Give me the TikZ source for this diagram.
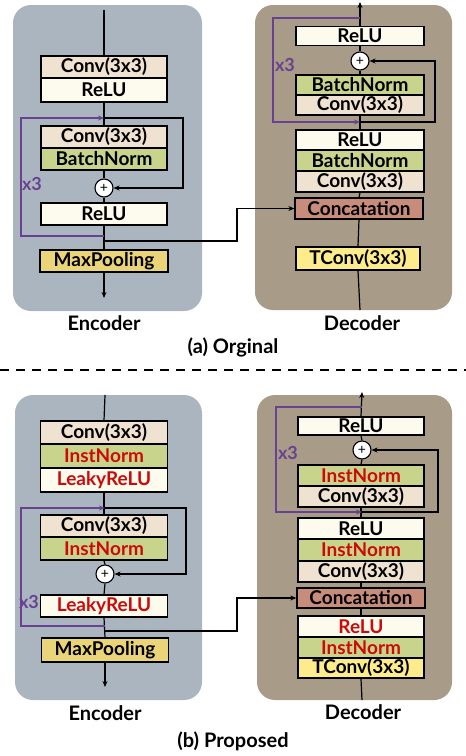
\documentclass[tikz,border=0pt]{standalone}
\usepackage{fontspec}
\setmainfont{Lato}
\usetikzlibrary{arrows.meta}
\definecolor{encbg}{RGB}{170,181,192}
\definecolor{decbg}{RGB}{168,155,135}
\definecolor{convc}{RGB}{240,226,208}
\definecolor{reluc}{RGB}{253,250,238}
\definecolor{normc}{RGB}{200,212,140}
\definecolor{poolc}{RGB}{234,212,122}
\definecolor{tconvc}{RGB}{252,236,140}
\definecolor{catc}{RGB}{200,140,122}
\definecolor{loopc}{RGB}{105,65,145}
\definecolor{redt}{RGB}{205,10,10}
\tikzset{
  blk/.style={draw=black, line width=1.3pt, inner sep=0pt, font=\bfseries\fontsize{19}{19}\selectfont},
  panel/.style={rounded corners=18pt, inner sep=0pt, draw=none},
  ln/.style={draw=black, line width=1.2pt},
  pl/.style={draw=loopc, line width=1.2pt},
  arr/.style={-{Stealth[length=6pt,width=5pt]}},
  addc/.style={circle, draw=black, fill=white, line width=1.1pt, minimum size=18pt, inner sep=0pt, font=\fontsize{14}{14}\selectfont},
  lbl/.style={font=\bfseries\fontsize{20}{20}\selectfont, inner sep=0pt},
  xlbl/.style={font=\bfseries\fontsize{18}{18}\selectfont, text=loopc, inner sep=0pt},
  red/.style={text=redt}
}
\begin{document}
\begin{tikzpicture}[x=1pt,y=-1pt]
\useasboundingbox (0,0) rectangle (466,756);
% ---------- panels ----------
\node[panel, fill=encbg, minimum width=189pt, minimum height=306pt] (pA) at (107.5,158) {};
\node[panel, fill=decbg, minimum width=197pt, minimum height=305pt] (pB) at (353.5,157.5) {};
\node[panel, fill=encbg, minimum width=187pt, minimum height=305pt] (pC) at (108.5,547.5) {};
\node[panel, fill=decbg, minimum width=195pt, minimum height=305pt] (pD) at (354.5,547.5) {};

% ---------- coordinates ----------
\coordinate (aIn) at (104,10);
\coordinate (aJ) at (104,118);
\coordinate (aK) at (104,236);
\coordinate (aS) at (104,241);
\coordinate (aOut) at (104,298);
\coordinate (bTop) at (360,2);
\coordinate (bP) at (360,18);
\coordinate (bJ) at (360,122);
\coordinate (bBot) at (360,310);
\coordinate (cIn) at (105,395);
\coordinate (cJ) at (105,508);
\coordinate (cK) at (105,626);
\coordinate (cS) at (105,631);
\coordinate (cOut) at (105,687);
\coordinate (dTop) at (362,392);
\coordinate (dP) at (362,407);
\coordinate (dJ) at (362,512);
\coordinate (dBot) at (362,700);

% ---------- labels ----------
\node[xlbl] (aX3) at (32,184) {x3};
\node[xlbl] (bX3) at (285,65) {x3};
\node[xlbl] (cX3) at (29,602) {x3};
\node[xlbl] (dX3) at (288,453) {x3};

% ================= (a) Encoder =================
\node[blk, fill=convc, minimum width=126pt, minimum height=22pt] (aC1) at (104,67) {Conv(3x3)};
\node[blk, fill=reluc, minimum width=126pt, minimum height=24pt] (aR1) at (104,90) {ReLU};
\node[blk, fill=convc, minimum width=126pt, minimum height=22pt] (aC2) at (104,137) {Conv(3x3)};
\node[blk, fill=normc, minimum width=126pt, minimum height=22pt] (aN2) at (104,159) {BatchNorm};
\node[blk, fill=reluc, minimum width=126pt, minimum height=22pt] (aR2) at (104,214) {ReLU};
\node[blk, fill=poolc, minimum width=128pt, minimum height=22pt] (aMP) at (104,261) {MaxPooling};

% ================= (a) Decoder =================
\node[blk, fill=reluc, minimum width=128pt, minimum height=19pt] (bR1) at (360,36) {ReLU};
\node[blk, fill=normc, minimum width=128pt, minimum height=20pt] (bN1) at (360,85) {BatchNorm};
\node[blk, fill=convc, minimum width=128pt, minimum height=20pt] (bC1) at (360,105) {Conv(3x3)};
\node[blk, fill=reluc, minimum width=128pt, minimum height=20pt] (bR2) at (360,140) {ReLU};
\node[blk, fill=normc, minimum width=128pt, minimum height=21pt] (bN2) at (360,160.5) {BatchNorm};
\node[blk, fill=convc, minimum width=128pt, minimum height=21pt] (bC2) at (360,181.5) {Conv(3x3)};
\node[blk, fill=catc, minimum width=128pt, minimum height=21pt] (bCat) at (359,208.5) {Concatation};
\node[blk, fill=tconvc, minimum width=124pt, minimum height=23pt] (bT) at (358,258.5) {TConv(3x3)};

% ================= (b) Encoder =================
\node[blk, fill=convc, minimum width=127pt, minimum height=23pt] (cC1) at (104,432.5) {Conv(3x3)};
\node[blk, fill=normc, minimum width=127pt, minimum height=24pt, red] (cN1) at (104,456) {InstNorm};
\node[blk, fill=reluc, minimum width=127pt, minimum height=24pt, red] (cL1) at (104,480) {LeakyReLU};
\node[blk, fill=convc, minimum width=127pt, minimum height=22pt] (cC2) at (104,526) {Conv(3x3)};
\node[blk, fill=normc, minimum width=127pt, minimum height=23pt, red] (cN2) at (104,548.5) {InstNorm};
\node[blk, fill=reluc, minimum width=127pt, minimum height=22pt, red] (cL2) at (104,606) {LeakyReLU};
\node[blk, fill=poolc, minimum width=127pt, minimum height=24pt] (cMP) at (105,650) {MaxPooling};

% ================= (b) Decoder =================
\node[blk, fill=reluc, minimum width=126pt, minimum height=18pt] (dR1) at (361,426) {ReLU};
\node[blk, fill=normc, minimum width=126pt, minimum height=21pt, red] (dN1) at (361,475.5) {InstNorm};
\node[blk, fill=convc, minimum width=126pt, minimum height=21pt] (dC1) at (361,496.5) {Conv(3x3)};
\node[blk, fill=reluc, minimum width=126pt, minimum height=21pt] (dR2) at (361,528.5) {ReLU};
\node[blk, fill=normc, minimum width=126pt, minimum height=22pt, red] (dN2) at (361,550) {InstNorm};
\node[blk, fill=convc, minimum width=126pt, minimum height=21pt] (dC2) at (361,571.5) {Conv(3x3)};
\node[blk, fill=catc, minimum width=128pt, minimum height=20pt] (dCat) at (361,598) {Concatation};
\node[blk, fill=reluc, minimum width=126pt, minimum height=21pt, red] (dR3) at (361,626.5) {ReLU};
\node[blk, fill=normc, minimum width=126pt, minimum height=21pt, red] (dN3) at (361,647.5) {InstNorm};
\node[blk, fill=tconvc, minimum width=126pt, minimum height=20pt] (dT) at (361,668) {TConv(3x3)};

% adder circles
\node[addc] (aAdd) at (104,188) {+};
\node[addc] (bAdd) at (360,61) {+};
\node[addc] (cAdd) at (105,574) {+};
\node[addc] (dAdd) at (362,450) {+};

% captions
\node[lbl] (lA1) at (104,323) {Encoder};
\node[lbl] (lA2) at (362,323) {Decoder};
\node[lbl] (capA) at (233,347) {(a) Orginal};
\node[lbl] (lB1) at (105,713) {Encoder};
\node[lbl] (lB2) at (363,712) {Decoder};
\node[lbl] (capB) at (233,741) {(b) Proposed};
\coordinate (dashL) at (0,370);
\coordinate (dashR) at (466,370);
\draw[black, line width=1.8pt, dash pattern=on 9pt off 7pt] (dashL) -- (dashR);

% ----- (a) encoder lines
\draw[ln] (aIn) -- (aC1.north);
\draw[ln] (aR1.south) -- (aC2.north);
\draw[ln, arr] (aJ) -- ++(79,0) |- (aAdd.east);
\draw[ln] (aN2.south) -- (aAdd.north);
\draw[ln] (aAdd.south) -- (aR2.north);
\draw[ln] (aR2.south) -- (aMP.north);
\draw[ln, arr] (aMP.south) -- (aOut);
\draw[pl, arr] (aK) -- ++(-83,0) |- (aJ);
\draw[ln, arr] (aS) -- ++(133,0) |- (bCat.west);
% ----- (a) decoder lines
\draw[ln, arr] (bR1.north) -- (bTop);
\draw[ln] (bAdd.north) -- (bR1.south);
\draw[ln] (bN1.north) -- (bAdd.south);
\draw[ln] (bR2.north) -- (bC1.south);
\draw[ln] (bCat.north) -- (bC2.south);
\draw[ln] (bT.north) -- (bCat.south);
\draw[ln] (bBot) -- (bT.south);
\draw[ln, arr] (bJ) -- ++(75,0) |- (bAdd.east);
\draw[pl, arr] (bP) -- ++(-87,0) |- (bJ);
% ----- (b) encoder lines
\draw[ln] (cIn) -- (cC1.north);
\draw[ln] (cL1.south) -- (cC2.north);
\draw[ln, arr] (cJ) -- ++(81,0) |- (cAdd.east);
\draw[ln] (cN2.south) -- (cAdd.north);
\draw[ln] (cAdd.south) -- (cL2.north);
\draw[ln] (cL2.south) -- (cMP.north);
\draw[ln, arr] (cMP.south) -- (cOut);
\draw[pl, arr] (cK) -- ++(-84,0) |- (cJ);
\draw[ln, arr] (cS) -- ++(132,0) |- (dCat.west);
% ----- (b) decoder lines
\draw[ln, arr] (dR1.north) -- (dTop);
\draw[ln] (dAdd.north) -- (dR1.south);
\draw[ln] (dN1.north) -- (dAdd.south);
\draw[ln] (dR2.north) -- (dC1.south);
\draw[ln] (dCat.north) -- (dC2.south);
\draw[ln] (dR3.north) -- (dCat.south);
\draw[ln] (dBot) -- (dT.south);
\draw[ln, arr] (dJ) -- ++(76,0) |- (dAdd.east);
\draw[pl, arr] (dP) -- ++(-86,0) |- (dJ);
\end{tikzpicture}
\end{document}
